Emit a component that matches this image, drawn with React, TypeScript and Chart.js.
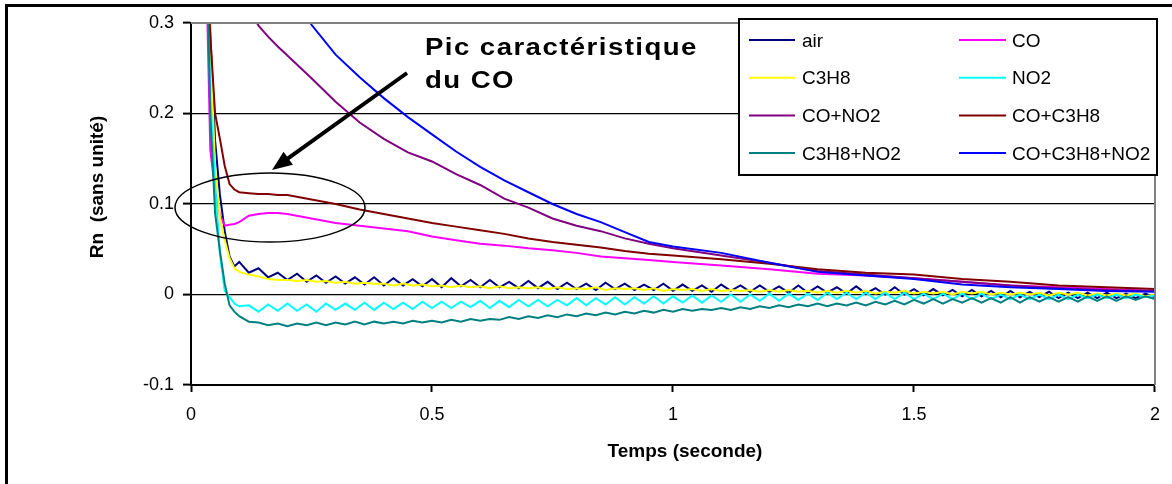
import React, { useEffect, useRef } from "react";
import { Chart, registerables } from "chart.js";

Chart.register(...registerables);

// ---- time axes (seconds) ----
const tFast = [
  0.03, 0.04, 0.05, 0.06, 0.07, 0.08, 0.09, 0.10, 0.12, 0.14,
  0.16, 0.18, 0.20, 0.22, 0.24, 0.26, 0.28, 0.30, 0.32, 0.34,
  0.36, 0.38, 0.40, 0.42, 0.44, 0.46, 0.48, 0.50, 0.52, 0.54,
  0.56, 0.58, 0.60, 0.62, 0.64, 0.66, 0.68, 0.70, 0.72, 0.74,
  0.76, 0.78, 0.80, 0.82, 0.84, 0.86, 0.88, 0.90, 0.92, 0.94,
  0.96, 0.98, 1.00, 1.02, 1.04, 1.06, 1.08, 1.10, 1.12, 1.14,
  1.16, 1.18, 1.20, 1.22, 1.24, 1.26, 1.28, 1.30, 1.32, 1.34,
  1.36, 1.38, 1.40, 1.42, 1.44, 1.46, 1.48, 1.50, 1.52, 1.54,
  1.56, 1.58, 1.60, 1.62, 1.64, 1.66, 1.68, 1.70, 1.72, 1.74,
  1.76, 1.78, 1.80, 1.82, 1.84, 1.86, 1.88, 1.90, 1.92, 1.94,
  1.96, 1.98, 2.00,
];

const tSlow = [
  0.03, 0.04, 0.05, 0.06, 0.07, 0.08, 0.09, 0.10,
  0.12, 0.14, 0.16, 0.18, 0.20,
  0.25, 0.30, 0.35, 0.40, 0.45, 0.50, 0.55, 0.60, 0.65, 0.70, 0.75, 0.80, 0.85, 0.90, 0.95, 1.00,
  1.10, 1.20, 1.30, 1.40, 1.50, 1.60, 1.70, 1.80, 1.90, 2.00,
];

// ---- series values (Rn, sans unité) ----
const air = [
  0.55, 0.29, 0.17, 0.11, 0.07, 0.042, 0.031, 0.036, 0.024, 0.029,
  0.019, 0.024, 0.016, 0.023, 0.014, 0.021, 0.013, 0.020, 0.012, 0.019,
  0.011, 0.019, 0.010, 0.018, 0.010, 0.017, 0.009, 0.017, 0.008, 0.018,
  0.009, 0.016, 0.008, 0.016, 0.008, 0.014, 0.007, 0.015, 0.007, 0.014,
  0.006, 0.013, 0.006, 0.012, 0.005, 0.013, 0.006, 0.012, 0.005, 0.011,
  0.005, 0.012, 0.004, 0.011, 0.004, 0.010, 0.003, 0.011, 0.004, 0.010,
  0.003, 0.010, 0.003, 0.009, 0.002, 0.010, 0.002, 0.009, 0.002, 0.008,
  0.001, 0.009, 0.001, 0.007, 0.000, 0.008, 0.000, 0.006, -0.001, 0.006,
  -0.001, 0.005, -0.002, 0.005, -0.002, 0.004, -0.003, 0.004, -0.003, 0.003,
  -0.003, 0.003, -0.004, 0.002, -0.004, 0.002, -0.004, 0.002, -0.004, 0.001,
  -0.004, 0.001, -0.003,
];

const c3h8 = [
  0.60, 0.28, 0.14, 0.085, 0.06, 0.040, 0.029, 0.025, 0.022, 0.020,
  0.017, 0.016, 0.016, 0.015, 0.016, 0.014, 0.015, 0.013, 0.014, 0.012,
  0.013, 0.012, 0.012, 0.010, 0.012, 0.010, 0.011, 0.009, 0.010, 0.008,
  0.010, 0.008, 0.009, 0.007, 0.009, 0.007, 0.008, 0.007, 0.008, 0.006,
  0.008, 0.006, 0.007, 0.006, 0.008, 0.005, 0.007, 0.006, 0.007, 0.005,
  0.007, 0.004, 0.006, 0.005, 0.006, 0.004, 0.006, 0.004, 0.005, 0.004,
  0.005, 0.003, 0.005, 0.003, 0.005, 0.003, 0.004, 0.002, 0.004, 0.002,
  0.004, 0.002, 0.004, 0.001, 0.003, 0.002, 0.004, 0.001, 0.003, 0.001,
  0.003, 0.000, 0.003, 0.001, 0.003, 0.000, 0.002, 0.000, 0.002, 0.000,
  0.002, -0.001, 0.002, 0.000, 0.002, -0.001, 0.001, -0.001, 0.001, -0.001,
  0.001, -0.002, 0.000,
];

const no2 = [
  0.45, 0.22, 0.12, 0.045, 0.004, -0.003, -0.010, -0.013, -0.012, -0.019,
  -0.011, -0.018, -0.010, -0.018, -0.011, -0.019, -0.010, -0.017, -0.010, -0.017,
  -0.009, -0.017, -0.009, -0.016, -0.009, -0.016, -0.008, -0.015, -0.008, -0.015,
  -0.008, -0.014, -0.007, -0.015, -0.007, -0.014, -0.006, -0.013, -0.006, -0.013,
  -0.006, -0.012, -0.004, -0.012, -0.004, -0.011, -0.003, -0.011, -0.003, -0.010,
  -0.002, -0.010, -0.002, -0.009, -0.001, -0.009, -0.001, -0.008, 0.000, -0.008,
  0.000, -0.007, 0.001, -0.007, 0.001, -0.006, 0.001, -0.006, 0.002, -0.005,
  0.002, -0.005, 0.002, -0.005, 0.002, -0.005, 0.002, -0.005, 0.001, -0.005,
  0.001, -0.005, 0.001, -0.005, 0.001, -0.005, 0.000, -0.005, 0.000, -0.005,
  0.000, -0.005, 0.000, -0.005, 0.000, -0.004, 0.000, -0.004, 0.000, -0.004,
  0.000, -0.003, -0.001,
];

const c3h8no2 = [
  0.45, 0.20, 0.09, 0.048, 0.012, -0.012, -0.019, -0.024, -0.030, -0.031,
  -0.034, -0.032, -0.035, -0.032, -0.034, -0.031, -0.034, -0.031, -0.033, -0.030,
  -0.033, -0.030, -0.032, -0.030, -0.032, -0.029, -0.031, -0.029, -0.031, -0.028,
  -0.030, -0.027, -0.029, -0.027, -0.028, -0.025, -0.027, -0.024, -0.026, -0.023,
  -0.025, -0.022, -0.024, -0.021, -0.023, -0.020, -0.022, -0.019, -0.021, -0.018,
  -0.020, -0.017, -0.019, -0.016, -0.018, -0.016, -0.017, -0.015, -0.017, -0.014,
  -0.016, -0.013, -0.015, -0.012, -0.014, -0.011, -0.013, -0.010, -0.013, -0.010,
  -0.012, -0.009, -0.012, -0.008, -0.011, -0.007, -0.011, -0.006, -0.010, -0.005,
  -0.010, -0.005, -0.009, -0.004, -0.009, -0.004, -0.009, -0.003, -0.009, -0.003,
  -0.008, -0.003, -0.008, -0.003, -0.008, -0.002, -0.007, -0.002, -0.007, -0.002,
  -0.006, -0.002, -0.005,
];

const co = [
  0.40, 0.16, 0.115, 0.088, 0.076, 0.077, 0.078, 0.080,
  0.087, 0.089, 0.090, 0.090, 0.089,
  0.084, 0.079, 0.076, 0.073, 0.070, 0.064, 0.060, 0.056, 0.054, 0.051, 0.049, 0.046, 0.042, 0.040, 0.038, 0.036,
  0.032, 0.028, 0.023, 0.021, 0.018, 0.014, 0.010, 0.008, 0.006, 0.004,
];

const coc3h8 = [
  0.42, 0.285, 0.20, 0.172, 0.142, 0.122, 0.116, 0.113,
  0.112, 0.111, 0.111, 0.110, 0.110,
  0.105, 0.100, 0.094, 0.089, 0.084, 0.079, 0.075, 0.071, 0.067, 0.062, 0.058, 0.055, 0.052, 0.048, 0.045, 0.043,
  0.039, 0.034, 0.028, 0.024, 0.022, 0.017, 0.014, 0.010, 0.008, 0.006,
];

const cono2 = [
  0.60, 0.52, 0.46, 0.42, 0.39, 0.37, 0.355, 0.34,
  0.318, 0.297, 0.285, 0.274, 0.264,
  0.239, 0.213, 0.190, 0.172, 0.157, 0.147, 0.133, 0.121, 0.106, 0.096, 0.084, 0.076, 0.070, 0.062, 0.056, 0.051,
  0.043, 0.035, 0.026, 0.022, 0.018, 0.014, 0.010, 0.007, 0.005, 0.004,
];

const coc3h8no2 = [
  0.90, 0.80, 0.72, 0.66, 0.61, 0.57, 0.54, 0.51,
  0.47, 0.43, 0.40, 0.37, 0.35,
  0.298, 0.265, 0.240, 0.217, 0.196, 0.177, 0.158, 0.141, 0.126, 0.113, 0.100, 0.089, 0.080, 0.069, 0.058, 0.053,
  0.046, 0.035, 0.025, 0.021, 0.017, 0.011, 0.008, 0.006, 0.004, 0.003,
];

const seriesNames = ["air", "CO", "C3H8", "NO2", "CO+NO2", "CO+C3H8", "C3H8+NO2", "CO+C3H8+NO2"];
const seriesColors = ["#000080", "#FF00FF", "#FFFF00", "#00FFFF", "#800080", "#800000", "#008080", "#0000FF"];
const seriesTimes = [tFast, tSlow, tFast, tFast, tSlow, tSlow, tFast, tSlow];
const seriesValues = [air, co, c3h8, no2, cono2, coc3h8, c3h8no2, coc3h8no2];

const xTicks = [0, 0.5, 1, 1.5, 2];
const yTicks = [-0.1, 0, 0.1, 0.2, 0.3];
const xTitle = "Temps (seconde)";
const yTitle = "Rn  (sans unité)";
const noteLines = ["Pic caractéristique", "du CO"];

const FONT = "'Liberation Sans', Arial, sans-serif";

function drawSpaced(ctx: CanvasRenderingContext2D, text: string, x: number, y: number, spacing: number, stretch: number) {
  ctx.save();
  ctx.translate(x, y);
  ctx.scale(stretch, 1);
  let cx = 0;
  for (const ch of text) {
    ctx.fillText(ch, cx, 0);
    cx += ctx.measureText(ch).width + spacing;
  }
  ctx.restore();
}

const decorPlugin = {
  id: "decor",
  beforeDraw(chart: any) {
    const ctx = chart.ctx;
    ctx.save();
    ctx.fillStyle = "#ffffff";
    ctx.fillRect(0, 0, chart.width, chart.height);
    ctx.restore();
  },
  afterDraw(chart: any) {
    const ctx: CanvasRenderingContext2D = chart.ctx;
    const a = chart.chartArea;
    ctx.save();

    // plot area border (grey) top and right
    ctx.strokeStyle = "#808080";
    ctx.lineWidth = 2;
    ctx.beginPath();
    ctx.moveTo(a.left, a.top);
    ctx.lineTo(a.right, a.top);
    ctx.lineTo(a.right, a.bottom);
    ctx.stroke();

    // outer chart frame (top and left visible)
    ctx.strokeStyle = "#000";
    ctx.lineWidth = 3;
    ctx.beginPath();
    ctx.moveTo(chart.width, 5.5);
    ctx.lineTo(6.5, 5.5);
    ctx.lineTo(6.5, chart.height);
    ctx.stroke();

    // ellipse annotation
    ctx.lineWidth = 1.5;
    ctx.beginPath();
    ctx.ellipse(270, 207.5, 95, 34.5, 0, 0, Math.PI * 2);
    ctx.stroke();

    // arrow
    const tail = { x: 407, y: 73 };
    const tip = { x: 272, y: 170 };
    const dx = tip.x - tail.x, dy = tip.y - tail.y;
    const len = Math.hypot(dx, dy);
    const ux = dx / len, uy = dy / len;
    const headLen = 20, headHalf = 8;
    const bx = tip.x - ux * headLen, by = tip.y - uy * headLen;
    ctx.lineWidth = 4;
    ctx.lineCap = "butt";
    ctx.beginPath();
    ctx.moveTo(tail.x, tail.y);
    ctx.lineTo(bx + ux * 2, by + uy * 2);
    ctx.stroke();
    ctx.fillStyle = "#000";
    ctx.beginPath();
    ctx.moveTo(tip.x, tip.y);
    ctx.lineTo(bx - uy * headHalf, by + ux * headHalf);
    ctx.lineTo(bx + uy * headHalf, by - ux * headHalf);
    ctx.closePath();
    ctx.fill();

    // annotation text
    ctx.font = `bold 23px ${FONT}`;
    ctx.textBaseline = "alphabetic";
    ctx.textAlign = "left";
    drawSpaced(ctx, noteLines[0], 425, 55, 1.2, 1.2);
    drawSpaced(ctx, noteLines[1], 425, 88, 1.2, 1.2);

    // legend
    const lx = 739, ly = 19, lw = 418, lh = 156;
    ctx.fillStyle = "#fff";
    ctx.fillRect(lx, ly, lw, lh);
    ctx.strokeStyle = "#000";
    ctx.lineWidth = 2;
    ctx.strokeRect(lx, ly, lw, lh);
    const colLine = [[749, 795], [959, 1006]];
    const colText = [802, 1012];
    ctx.font = `19px ${FONT}`;
    ctx.textBaseline = "middle";
    seriesNames.forEach((name, i) => {
      const col = i % 2;
      const row = Math.floor(i / 2);
      const y = 40 + row * 37.7;
      ctx.strokeStyle = seriesColors[i];
      ctx.lineWidth = 2;
      ctx.beginPath();
      ctx.moveTo(colLine[col][0], y);
      ctx.lineTo(colLine[col][1], y);
      ctx.stroke();
      ctx.fillStyle = "#000";
      ctx.fillText(name, colText[col], y + 1.5);
    });

    // axis titles
    ctx.fillStyle = "#000";
    ctx.font = `bold 19px ${FONT}`;
    ctx.textAlign = "center";
    ctx.textBaseline = "middle";
    ctx.fillText(xTitle, 685, 452);
    ctx.translate(98, 187);
    ctx.rotate(-Math.PI / 2);
    ctx.fillText(yTitle, 0, 0);

    ctx.restore();
  },
};

export default function App() {
  const ref = useRef<HTMLCanvasElement | null>(null);

  useEffect(() => {
    if (!ref.current) return;
    const datasets = seriesNames.map((name, i) => ({
      label: name,
      data: seriesTimes[i].map((t, k) => ({ x: t, y: seriesValues[i][k] })),
      borderColor: seriesColors[i],
      backgroundColor: seriesColors[i],
      borderWidth: 2,
      pointRadius: 0,
      tension: 0,
      fill: false,
      order: seriesNames.length - i,
    }));

    const chart = new Chart(ref.current, {
      type: "line",
      data: { datasets },
      plugins: [decorPlugin],
      options: {
        animation: false,
        responsive: false,
        maintainAspectRatio: false,
        layout: { padding: { left: 0, top: 23, right: 6, bottom: 0 } },
        plugins: {
          legend: { display: false },
          tooltip: { enabled: false },
          title: { display: false },
        },
        scales: {
          x: {
            type: "linear",
            min: 0,
            max: 2,
            afterBuildTicks: (s: any) => {
              s.ticks = xTicks.map((v) => ({ value: v }));
            },
            afterFit: (s: any) => {
              s.height = 99;
            },
            ticks: {
              color: "#000",
              font: { family: FONT, size: 18 },
              padding: 12,
              maxRotation: 0,
              autoSkip: false,
              callback: (v: any) => String(Number(Number(v).toFixed(2))),
            },
            grid: {
              drawOnChartArea: false,
              drawTicks: true,
              tickLength: 7,
              tickColor: "#000",
              tickWidth: 2,
            },
            border: { display: true, color: "#000", width: 2 },
          },
          y: {
            type: "linear",
            min: -0.1,
            max: 0.3,
            afterBuildTicks: (s: any) => {
              s.ticks = yTicks.map((v) => ({ value: v }));
            },
            afterFit: (s: any) => {
              s.width = 191;
            },
            ticks: {
              color: "#000",
              font: { family: FONT, size: 18 },
              padding: 9,
              autoSkip: false,
              callback: (v: any) => String(Number(Number(v).toFixed(2))),
            },
            grid: {
              color: (c: any) => {
                const v = c.tick ? c.tick.value : 0;
                if (Math.abs(v - 0.3) < 1e-9 || Math.abs(v + 0.1) < 1e-9) return "rgba(0,0,0,0)";
                return "#000";
              },
              lineWidth: 1.2,
              drawTicks: true,
              tickLength: 8,
              tickColor: "#000",
              tickWidth: 2,
            },
            border: { display: true, color: "#000", width: 2 },
          },
        },
      },
    } as any);

    return () => chart.destroy();
  }, []);

  return (
    <div style={{ position: "fixed", left: 0, top: 0, width: 1172, height: 484, background: "#fff" }}>
      <canvas ref={ref} width={1172} height={484} style={{ display: "block", width: 1172, height: 484 }} />
    </div>
  );
}
